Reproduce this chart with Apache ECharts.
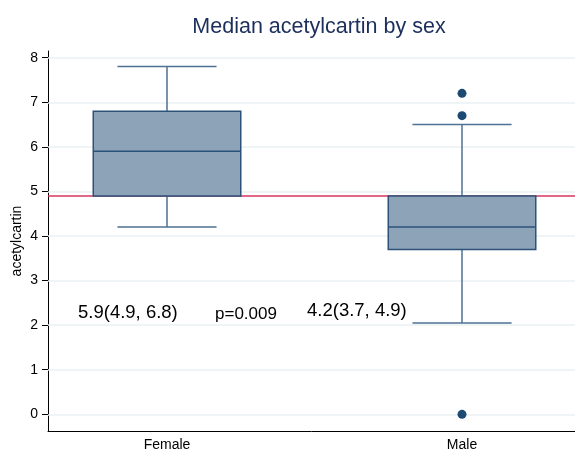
<!DOCTYPE html>
<html><head><meta charset="utf-8">
<script src="https://cdn.jsdelivr.net/npm/echarts@6/dist/echarts.min.js"></script>
<style>html,body{margin:0;padding:0;background:#fff}#c{width:575px;height:450px}</style>
</head><body><div id="c"></div>
<script>
var categories = ['Female', 'Male'];
var lowerWhisker = [4.2, 2.05];
var q1 = [4.9, 3.7];
var median = [5.9, 4.2];
var q3 = [6.8, 4.9];
var upperWhisker = [7.8, 6.5];
var outliers = [[2, 7.2], [2, 6.7], [2, 0]];
var yTicks = [0, 1, 2, 3, 4, 5, 6, 7, 8];
var refLine = 4.9;
var pValue = 'p=0.009';

var chart = echarts.init(document.getElementById('c'), null, {renderer: 'canvas'});
var FONT = 'Liberation Sans, Arial, sans-serif';
var navy = '#1d4a73';

var boxData = categories.map(function (c, i) {
  return [i + 1, lowerWhisker[i], q1[i], median[i], q3[i], upperWhisker[i]];
});

function renderBox(params, api) {
  var x = api.value(0);
  var lw = api.value(1), b1 = api.value(2), md = api.value(3), b3 = api.value(4), uw = api.value(5);
  var hb = 0.25, hc = 0.168;
  var pTL = api.coord([x - hb, b3]);
  var pBR = api.coord([x + hb, b1]);
  var cL = api.coord([x - hc, lw]);
  var cR = api.coord([x + hc, lw]);
  var uL = api.coord([x - hc, uw]);
  var uR = api.coord([x + hc, uw]);
  var cx = api.coord([x, md])[0];
  var mL = api.coord([x - hb, md]);
  var mR = api.coord([x + hb, md]);
  var lineStyle = {stroke: '#4f7193', lineWidth: 1.5};
  return {
    type: 'group',
    children: [
      {type: 'line', shape: {x1: cx, y1: pBR[1], x2: cx, y2: cL[1]}, style: lineStyle},
      {type: 'line', shape: {x1: cx, y1: pTL[1], x2: cx, y2: uL[1]}, style: lineStyle},
      {type: 'line', shape: {x1: cL[0], y1: cL[1], x2: cR[0], y2: cR[1]}, style: lineStyle},
      {type: 'line', shape: {x1: uL[0], y1: uL[1], x2: uR[0], y2: uR[1]}, style: lineStyle},
      {type: 'rect', shape: {x: pTL[0], y: pTL[1], width: pBR[0] - pTL[0], height: pBR[1] - pTL[1]},
        style: {fill: '#8ca3b8', stroke: '#2c5278', lineWidth: 1.5}},
      {type: 'line', shape: {x1: mL[0], y1: mL[1], x2: mR[0], y2: mR[1]}, style: {stroke: '#2c5278', lineWidth: 1.5}}
    ]
  };
}

function fmt(v) { return v.toFixed(1); }

var option = {
  animation: false,
  backgroundColor: '#ffffff',
  title: {
    text: 'Median acetylcartin by sex',
    left: 314, top: 11, textAlign: 'center',
    textStyle: {fontFamily: FONT, fontSize: 21.5, fontWeight: 'normal', color: '#1c2e5c'}
  },
  grid: {left: 48, right: 0, top: 51, bottom: 19, containLabel: false, outerBoundsMode: 'none'},
  xAxis: {
    type: 'value', min: 0.5966, max: 2.383,
    axisLine: {show: true, onZero: false, lineStyle: {color: '#000', width: 1}},
    axisTick: {show: false},
    splitLine: {show: false},
    axisLabel: {
      customValues: [1, 2],
      formatter: function (v) { return categories[Math.round(v) - 1] || ''; },
      fontFamily: FONT, fontSize: 14, color: '#000', margin: 7
    }
  },
  yAxis: {
    type: 'value', min: -0.374, max: 8.15,
    name: 'acetylcartin', nameLocation: 'middle', nameGap: 24, nameRotate: 90, nameMoveOverlap: false,
    nameTextStyle: {fontFamily: FONT, fontSize: 14, color: '#000'},
    axisLine: {show: true, onZero: false, lineStyle: {color: '#000', width: 1}},
    axisTick: {show: true, customValues: yTicks, length: 6, lineStyle: {color: '#000'}},
    splitLine: {show: false},
    axisLabel: {customValues: yTicks, fontFamily: FONT, fontSize: 14, color: '#000', margin: 10}
  },
  series: [
    {
      type: 'line', data: [], silent: true, z: 1,
      markLine: {
        z: 1, silent: true, symbol: 'none', label: {show: false},
        lineStyle: {color: '#eaf1f3', width: 1.5, type: 'solid'},
        data: yTicks.map(function (t) { return {yAxis: t}; })
      }
    },
    {
      type: 'line', data: [], silent: true, z: 2,
      markLine: {
        z: 2, silent: true, symbol: 'none', label: {show: false},
        lineStyle: {color: '#d4375f', width: 1.5, type: 'solid'},
        data: [{yAxis: refLine}]
      }
    },
    {
      type: 'custom', renderItem: renderBox, data: boxData, z: 4,
      encode: {x: 0, y: [1, 2, 3, 4, 5]}
    },
    {
      type: 'scatter', data: outliers, symbol: 'circle', symbolSize: 9, z: 5,
      itemStyle: {color: navy, opacity: 1}
    }
  ],
  graphic: [
    {type: 'text', left: 78, top: 303, style: {text: fmt(median[0]) + '(' + fmt(q1[0]) + ', ' + fmt(q3[0]) + ')', fontFamily: FONT, fontSize: 18.5, fill: '#000'}},
    {type: 'text', left: 215, top: 306, style: {text: pValue, fontFamily: FONT, fontSize: 17, fill: '#000'}},
    {type: 'text', left: 307, top: 301, style: {text: fmt(median[1]) + '(' + fmt(q1[1]) + ', ' + fmt(q3[1]) + ')', fontFamily: FONT, fontSize: 18.5, fill: '#000'}}
  ]
};
chart.setOption(option);
</script></body></html>
